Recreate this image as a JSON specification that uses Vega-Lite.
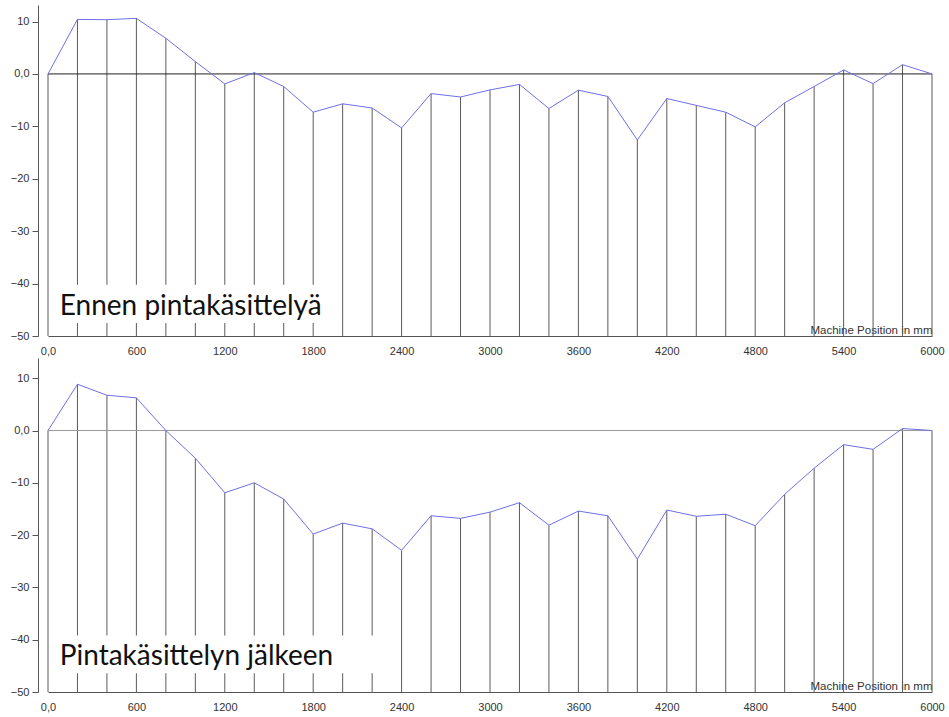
{
  "$schema": "https://vega.github.io/schema/vega-lite/v6.json",
  "background": "white",
  "padding": {"left": 10, "top": 5, "right": 5, "bottom": 5},
  "spacing": 2,
  "config": {
    "view": {"stroke": null},
    "font": "Liberation Sans",
    "axis": {"grid": false, "labelFont": "Liberation Sans", "labelFontSize": 11, "labelColor": "#333", "domainColor": "#555", "tickColor": "#555", "titleFont": "Liberation Sans", "titleFontSize": 11.5, "titleFontWeight": "normal", "titleColor": "#333"}
  },
  "datasets": {
    "before": [
      {"pos": 0, "dev": 0}, {"pos": 200, "dev": 10.4}, {"pos": 400, "dev": 10.35}, {"pos": 600, "dev": 10.6},
      {"pos": 800, "dev": 6.8}, {"pos": 1000, "dev": 2.35}, {"pos": 1200, "dev": -1.9}, {"pos": 1400, "dev": 0.25},
      {"pos": 1600, "dev": -2.4}, {"pos": 1800, "dev": -7.3}, {"pos": 2000, "dev": -5.7}, {"pos": 2200, "dev": -6.5},
      {"pos": 2400, "dev": -10.3}, {"pos": 2600, "dev": -3.75}, {"pos": 2800, "dev": -4.4}, {"pos": 3000, "dev": -3.05},
      {"pos": 3200, "dev": -2.0}, {"pos": 3400, "dev": -6.6}, {"pos": 3600, "dev": -3.1}, {"pos": 3800, "dev": -4.3},
      {"pos": 4000, "dev": -12.6}, {"pos": 4200, "dev": -4.7}, {"pos": 4400, "dev": -6.0}, {"pos": 4600, "dev": -7.3},
      {"pos": 4800, "dev": -10.1}, {"pos": 5000, "dev": -5.5}, {"pos": 5200, "dev": -2.4}, {"pos": 5400, "dev": 0.76},
      {"pos": 5600, "dev": -1.85}, {"pos": 5800, "dev": 1.77}, {"pos": 6000, "dev": 0}
    ],
    "after": [
      {"pos": 0, "dev": 0}, {"pos": 200, "dev": 8.85}, {"pos": 400, "dev": 6.75}, {"pos": 600, "dev": 6.25},
      {"pos": 800, "dev": 0}, {"pos": 1000, "dev": -5.3}, {"pos": 1200, "dev": -11.9}, {"pos": 1400, "dev": -10.0},
      {"pos": 1600, "dev": -13.1}, {"pos": 1800, "dev": -19.8}, {"pos": 2000, "dev": -17.7}, {"pos": 2200, "dev": -18.8},
      {"pos": 2400, "dev": -22.9}, {"pos": 2600, "dev": -16.3}, {"pos": 2800, "dev": -16.8}, {"pos": 3000, "dev": -15.6},
      {"pos": 3200, "dev": -13.8}, {"pos": 3400, "dev": -18.1}, {"pos": 3600, "dev": -15.4}, {"pos": 3800, "dev": -16.3},
      {"pos": 4000, "dev": -24.6}, {"pos": 4200, "dev": -15.2}, {"pos": 4400, "dev": -16.4}, {"pos": 4600, "dev": -16.0},
      {"pos": 4800, "dev": -18.2}, {"pos": 5000, "dev": -12.2}, {"pos": 5200, "dev": -7.2}, {"pos": 5400, "dev": -2.7},
      {"pos": 5600, "dev": -3.6}, {"pos": 5800, "dev": 0.38}, {"pos": 6000, "dev": 0}
    ]
  },
  "vconcat": [
    {
      "width": 884,
      "height": 331,
      "layer": [
        {
          "data": {"name": "before"},
          "mark": {"type": "rule", "color": "#5a5a5a", "strokeWidth": 1},
          "encoding": {
            "x": {"field": "pos", "type": "quantitative", "scale": {"domain": [0, 6000], "nice": false},
              "axis": {"values": [0, 600, 1200, 1800, 2400, 3000, 3600, 4200, 4800, 5400, 6000], "format": "d", "labelExpr": "datum.value == 0 ? '0,0' : datum.label", "ticks": false, "labelPadding": 9, "labelFlush": false, "labelOverlap": false,
                "title": "Machine Position in mm", "titleAnchor": "end", "titleAlign": "right", "titleBaseline": "bottom", "titleY": -1}},
            "y": {"field": "dev", "type": "quantitative", "scale": {"domain": [-50, 13.15], "nice": false, "zero": false},
              "axis": {"values": [-50, -40, -30, -20, -10, 0, 10], "labelExpr": "datum.value == 0 ? '0,0' : datum.label", "offset": 10, "tickSize": 6, "labelPadding": 3, "labelFlush": false, "title": null}},
            "y2": {"datum": -50}
          }
        },
        {
          "data": {"values": [{}]},
          "mark": {"type": "rule", "color": "#222", "strokeWidth": 1},
          "encoding": {"y": {"datum": 0}}
        },
        {
          "data": {"name": "before"},
          "mark": {"type": "line", "color": "#6f6fe8", "strokeWidth": 1},
          "encoding": {"x": {"field": "pos", "type": "quantitative"}, "y": {"field": "dev", "type": "quantitative"}}
        },
        {
          "data": {"values": [{}]},
          "mark": {"type": "rect", "color": "white"},
          "encoding": {"x": {"datum": 30}, "x2": {"datum": 1950}, "y": {"datum": -40.2}, "y2": {"datum": -47.5}}
        },
        {
          "data": {"values": [{}]},
          "mark": {"type": "text", "text": "Ennen pintakäsittelyä", "font": "Lato", "fontSize": 28, "align": "left", "baseline": "alphabetic", "color": "#111"},
          "encoding": {"x": {"datum": 80}, "y": {"datum": -46}}
        }
      ]
    },
    {
      "width": 884,
      "height": 334,
      "layer": [
        {
          "data": {"name": "after"},
          "mark": {"type": "rule", "color": "#5a5a5a", "strokeWidth": 1},
          "encoding": {
            "x": {"field": "pos", "type": "quantitative", "scale": {"domain": [0, 6000], "nice": false},
              "axis": {"values": [0, 600, 1200, 1800, 2400, 3000, 3600, 4200, 4800, 5400, 6000], "format": "d", "labelExpr": "datum.value == 0 ? '0,0' : datum.label", "ticks": false, "labelPadding": 9, "labelFlush": false, "labelOverlap": false,
                "title": "Machine Position in mm", "titleAnchor": "end", "titleAlign": "right", "titleBaseline": "bottom", "titleY": -1}},
            "y": {"field": "dev", "type": "quantitative", "scale": {"domain": [-50, 13.87], "nice": false, "zero": false},
              "axis": {"values": [-50, -40, -30, -20, -10, 0, 10], "labelExpr": "datum.value == 0 ? '0,0' : datum.label", "offset": 10, "tickSize": 6, "labelPadding": 3, "labelFlush": false, "title": null}},
            "y2": {"datum": -50}
          }
        },
        {
          "data": {"values": [{}]},
          "mark": {"type": "rule", "color": "#999", "strokeWidth": 1},
          "encoding": {"y": {"datum": 0}}
        },
        {
          "data": {"name": "after"},
          "mark": {"type": "line", "color": "#6f6fe8", "strokeWidth": 1},
          "encoding": {"x": {"field": "pos", "type": "quantitative"}, "y": {"field": "dev", "type": "quantitative"}}
        },
        {
          "data": {"values": [{}]},
          "mark": {"type": "rect", "color": "white"},
          "encoding": {"x": {"datum": 30}, "x2": {"datum": 2290}, "y": {"datum": -39.2}, "y2": {"datum": -46.4}}
        },
        {
          "data": {"values": [{}]},
          "mark": {"type": "text", "text": "Pintakäsittelyn jälkeen", "font": "Lato", "fontSize": 28, "align": "left", "baseline": "alphabetic", "color": "#111"},
          "encoding": {"x": {"datum": 80}, "y": {"datum": -44.8}}
        }
      ]
    }
  ]
}
